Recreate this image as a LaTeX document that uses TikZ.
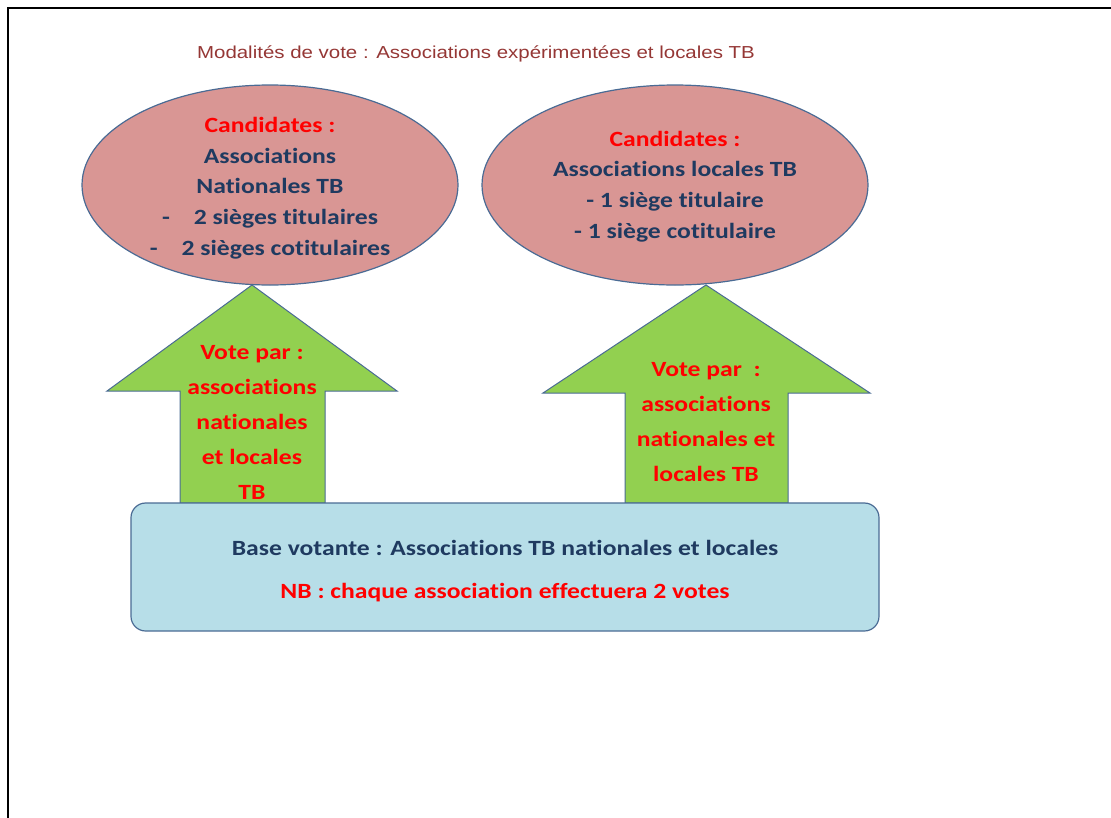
\documentclass[tikz,border=0pt]{standalone}
\usepackage{fontspec}
\setmainfont{Carlito}[FakeStretch=1.18, Ligatures=NoCommon]
\newfontfamily\titlefont[FakeStretch=1.18]{Liberation Sans}
\usetikzlibrary{shapes.geometric}

\definecolor{candfill}{HTML}{D99694}
\definecolor{votefill}{HTML}{92D050}
\definecolor{basefill}{HTML}{B7DEE8}
\definecolor{edgeblue}{HTML}{4A6B94}
\definecolor{navy}{HTML}{1F3A60}
\definecolor{titlered}{HTML}{953735}

\begin{document}
\begin{tikzpicture}[
  x=0.75pt, y=-0.75pt,
  cand/.style={ellipse, draw=edgeblue, line width=0.9pt, fill=candfill, inner sep=0pt},
  vote/.style={draw=edgeblue, line width=0.75pt, fill=votefill, line join=miter},
  base/.style={draw=edgeblue, line width=0.9pt, fill=basefill, rounded corners=11pt,
               minimum width=561pt, minimum height=96pt, align=center},
  ctext/.style={align=center, text=navy, font=\fontsize{16.3}{23}\selectfont\bfseries},
  vtext/.style={align=center, text=red, font=\fontsize{16.3}{26.25}\selectfont\bfseries}
]
\useasboundingbox (0,0) rectangle (1111,818);
\draw[line width=1.5pt] (8,8) -- (1111,8);
\draw[line width=2.2pt] (930,8) -- (1111,8);
\draw[line width=2.2pt] (8,7) -- (8,818);

\node[text=titlered, font=\titlefont\fontsize{13}{16}\selectfont] (titre) at (476,54)
  {Modalités de vote : Associations expérimentées et locales TB};

% fleches de vote
\coordinate (tipN) at (252,285);
\coordinate (tipL) at (706,285);
\draw[vote] (tipN) -- ++(145,106) -- ++(-72,0) -- ++(0,112) -- ++(-145,0)
  -- ++(0,-112) -- ++(-73,0) -- cycle;
\draw[vote] (tipL) -- ++(164,108) -- ++(-82,0) -- ++(0,110) -- ++(-163,0)
  -- ++(0,-110) -- ++(-82,0) -- cycle;
\node[vtext] (voteN) at (252,422)
  {Vote par :\\associations\\nationales\\et locales\\TB};
\node[vtext] (voteL) at (706,422)
  {Vote par~~:\\associations\\nationales et\\locales TB};

% candidates
\node[cand, minimum width=282pt, minimum height=150pt] (candN) at (270,185) {};
\node[cand, minimum width=289.5pt, minimum height=150pt] (candL) at (675,185) {};
\node[ctext] at ([yshift=-2.25pt]candN)
  {\textcolor{red}{Candidates :}\\Associations\\Nationales TB\\
   -\hspace{18pt}2 sièges titulaires\\-\hspace{18pt}2 sièges cotitulaires};
\node[ctext] at ([yshift=-1pt]candL)
  {\textcolor{red}{Candidates :}\\Associations locales TB\\- 1 siège titulaire\\- 1 siège cotitulaire};

% base votante
\node[base, text=navy, font=\fontsize{16.3}{32}\selectfont\bfseries] (base) at (505,567)
  {\rule{0pt}{18pt}Base votante : Associations TB nationales et locales\\
   \textcolor{red}{NB : chaque association effectuera 2 votes}};
\end{tikzpicture}
\end{document}
